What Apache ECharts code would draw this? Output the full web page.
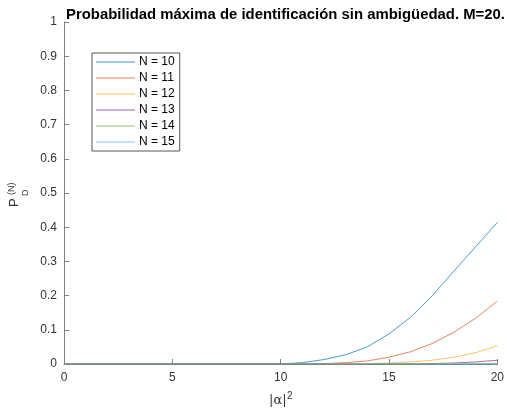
<!DOCTYPE html>
<html>
<head>
<meta charset="utf-8">
<script src="https://cdn.jsdelivr.net/npm/echarts@6/dist/echarts.min.js"></script>
<style>
html,body{margin:0;padding:0;background:#fff;}
#c{width:507px;height:417px;}
</style>
</head>
<body>
<div id="c"></div>
<script>
var xValues = [0,1,2,3,4,5,6,7,8,9,10,11,12,13,14,15,16,17,18,19,20];
var seriesNames = ['N = 10','N = 11','N = 12','N = 13','N = 14','N = 15'];
var n10 = [0,0,0,0,0,0,0,0,0,0,0,0.004,0.013,0.027,0.05,0.088,0.137,0.2,0.272,0.343,0.414];
var n11 = [0,0,0,0,0,0,0,0,0,0,0,0,0.001,0.004,0.009,0.02,0.036,0.06,0.093,0.134,0.184];
var n12 = [0,0,0,0,0,0,0,0,0,0,0,0,0,0.0003,0.001,0.003,0.006,0.011,0.02,0.033,0.053];
var n13 = [0,0,0,0,0,0,0,0,0,0,0,0,0,0,0.0001,0.0003,0.0006,0.0013,0.003,0.006,0.011];
var n14 = [0,0,0,0,0,0,0,0,0,0,0,0,0,0,0,0,0,0.0002,0.0005,0.001,0.002];
var n15 = [0,0,0,0,0,0,0,0,0,0,0,0,0,0,0,0,0,0,0,0.0001,0.0003];
var allSeries = [n10,n11,n12,n13,n14,n15];
var colors = ['#0072BD','#D95319','#EDB120','#7E2F8E','#77AC30','#4DBEEE'];

var FONT = 'Liberation Sans, Arial, sans-serif';
var chart = echarts.init(document.getElementById('c'), null, {renderer:'canvas'});
var series = allSeries.map(function(arr, i){
  return {
    name: seriesNames[i],
    type: 'line',
    data: arr.map(function(v, j){ return [xValues[j], v]; }),
    showSymbol: false,
    symbol: 'none',
    lineStyle: {width: 1, color: colors[i], opacity: 0.7},
    itemStyle: {color: colors[i]},
    animation: false
  };
});
var axisColor = '#808080';
chart.setOption({
  backgroundColor: '#ffffff',
  animation: false,
  color: colors,
  title: {
    text: 'Probabilidad máxima de identificación sin ambigüedad. M=20.',
    left: 61, top: 2,
    textStyle: {fontFamily: FONT, fontSize: 14.9, fontWeight: 'bold', color: '#000'}
  },
  grid: {left: 64, right: 9, top: 22, bottom: 53, containLabel: false},
  legend: {
    orient: 'vertical', left: 92, top: 53,
    padding: [3, 5, 3, 4],
    itemWidth: 39, itemHeight: 11, itemGap: 4,
    icon: 'path://M0,0L39,0L39,1L0,1Z',
    itemStyle: {opacity: 0.75},
    borderColor: '#555', borderWidth: 1, backgroundColor: '#fff',
    textStyle: {fontFamily: FONT, fontSize: 12, lineHeight: 11, color: '#000', padding: [0,0,0,-1]},
    data: seriesNames
  },
  xAxis: {
    type: 'value', min: 0, max: 20, interval: 5,
    axisLine: {show: true, lineStyle: {color: axisColor, width: 1}},
    axisTick: {show: true, inside: true, length: 5, lineStyle: {color: axisColor}},
    axisLabel: {fontFamily: FONT, fontSize: 12, color: '#333', margin: 8},
    splitLine: {show: false}
  },
  yAxis: {
    type: 'value', min: 0, max: 1, interval: 0.1,
    axisLine: {show: true, lineStyle: {color: axisColor, width: 1}},
    axisTick: {show: true, inside: true, length: 5, lineStyle: {color: axisColor}},
    axisLabel: {fontFamily: FONT, fontSize: 12, color: '#333', margin: 7,
      formatter: function(v){ return String(Math.round(v*10)/10); }},
    splitLine: {show: false}
  },
  graphic: [
    {type: 'group', x: 21, y: 207, rotation: Math.PI/2, children: [
      {type: 'text', x: 0, y: 0,
        style: {text: 'P', font: '13px ' + FONT, fill: '#333', textAlign: 'left', textVerticalAlign: 'bottom'}}
    ]},
    {type: 'group', x: 16, y: 195, rotation: Math.PI/2, children: [
      {type: 'text', x: 0, y: 0,
        style: {text: '(N)', font: '9px ' + FONT, fill: '#333', textAlign: 'left', textVerticalAlign: 'bottom'}}
    ]},
    {type: 'group', x: 30, y: 196, rotation: Math.PI/2, children: [
      {type: 'text', x: 0, y: 0,
        style: {text: 'D', font: '9px ' + FONT, fill: '#333', textAlign: 'left', textVerticalAlign: 'bottom'}}
    ]},
    {type: 'text', x: 269, y: 394,
      style: {text: '|α|', font: '13px DejaVu Serif, serif', fill: '#333', textAlign: 'left', textVerticalAlign: 'top'}},
    {type: 'text', x: 287, y: 391,
      style: {text: '2', font: '10px ' + FONT, fill: '#333', textAlign: 'left', textVerticalAlign: 'top'}}
  ],
  series: series
});
</script>
</body>
</html>
